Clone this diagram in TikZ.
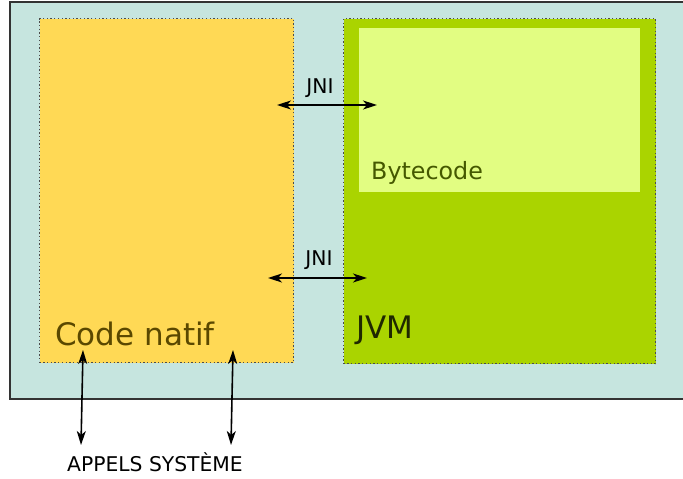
\documentclass[tikz,border=0pt]{standalone}
\usepackage{fontspec}
\setmainfont{DejaVu Sans}
\usetikzlibrary{arrows.meta}
\definecolor{outerbg}{HTML}{C6E5DF}
\definecolor{natifbg}{HTML}{FFD955}
\definecolor{jvmbg}{HTML}{AAD400}
\definecolor{bytebg}{HTML}{E2FD82}
\definecolor{natiftxt}{HTML}{5A4800}
\definecolor{jvmtxt}{HTML}{1F2800}
\definecolor{bytetxt}{HTML}{455800}
\tikzset{
  zone/.style={draw=black!70, dash pattern=on 1.3pt off 2.4pt, line width=1.3pt, inner sep=0pt, anchor=north west},
  bigtxt/.style={font=\fontsize{31}{36}\selectfont, inner sep=0pt, anchor=base west},
  smalltxt/.style={font=\fontsize{20.3}{24}\selectfont, inner sep=0pt},
  dbl/.style={line width=1.6pt, {Stealth[length=14pt,width=9pt,inset=4pt]}-{Stealth[length=14pt,width=9pt,inset=4pt]}}
}
\begin{document}
\begin{tikzpicture}[x=1pt,y=-1pt]
\useasboundingbox (0,0) rectangle (683,479);
\fill[outerbg] (10,2) rectangle (683,399);
\draw[line width=1.3pt, black!80] (683,2) -- (10,2) -- (10,399) -- (683,399);
\node[zone, fill=natifbg, minimum width=254pt, minimum height=344pt] (natif) at (39,18) {};
\node[zone, fill=jvmbg, minimum width=312pt, minimum height=345pt] (jvm) at (343,18) {};
\node[fill=bytebg, inner sep=0pt, anchor=north west, minimum width=281pt, minimum height=164pt] (byte) at (359,28) {};
\node[bigtxt, text=natiftxt] (natiflbl) at (55,345) {Code natif};
\node[bigtxt, text=jvmtxt] (jvmlbl) at (356,338) {JVM};
\node[font=\fontsize{23.8}{28}\selectfont, inner sep=0pt, anchor=base west, text=bytetxt] (bytelbl) at (371,179) {Bytecode};
\coordinate (j1a) at (277,105);
\coordinate (j1b) at (377,105);
\coordinate (j2a) at (268,278);
\coordinate (j2b) at (367,278);
\draw[dbl] (j1a) -- (j1b);
\draw[dbl] (j2a) -- (j2b);
\node[smalltxt, anchor=base] (jni1) at (320,93) {JNI};
\node[smalltxt, anchor=base] (jni2) at (319,265) {JNI};
\coordinate (s1a) at (83,350);
\coordinate (s1b) at (81,445);
\coordinate (s2a) at (233,350);
\coordinate (s2b) at (231,445);
\draw[dbl] (s1a) -- (s1b);
\draw[dbl] (s2a) -- (s2b);
\node[smalltxt, anchor=base] (sys) at (155,471) {APPELS SYSTÈME};
\end{tikzpicture}
\end{document}
